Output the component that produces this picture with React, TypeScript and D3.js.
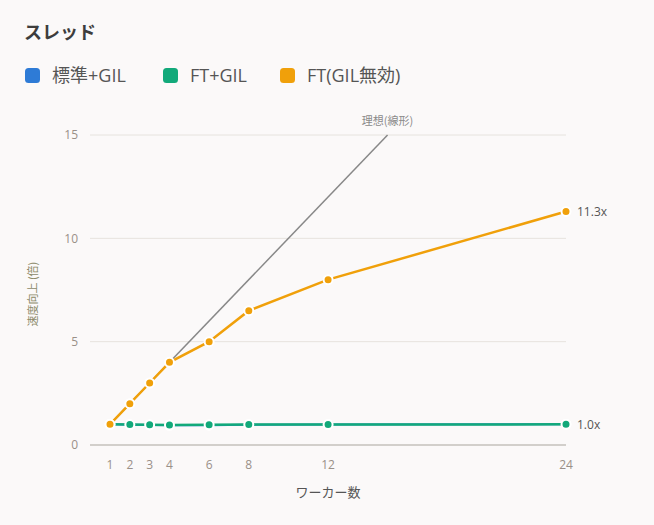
import { useRef, useEffect } from "react";
import * as d3 from "d3";

const workers = [1, 2, 3, 4, 6, 8, 12, 24];
const standardGil = [1.0, 0.98, 0.97, 0.95, 0.96, 0.98, 0.99, 1.01];
const ftGil = [1.0, 0.99, 0.98, 0.97, 0.98, 0.99, 0.99, 1.0];
const ftNoGil = [1.0, 2.0, 3.0, 4.0, 5.0, 6.5, 8.0, 11.3];
const idealX = [1, 15];
const yTicks = [0, 5, 10, 15];

const seriesNames = ["標準+GIL", "FT+GIL", "FT(GIL無効)"];
const seriesColors = ["#2e7bd6", "#12a97a", "#f0a00a"];

const FONT = "'Open Sans', 'Noto Sans CJK JP', sans-serif";
const CJK = "'Noto Sans CJK JP', 'Noto Sans', sans-serif";

export default function App() {
  const svgRef = useRef<SVGSVGElement>(null);

  useEffect(() => {
    if (!svgRef.current) return;
    const svg = d3.select(svgRef.current);
    svg.selectAll("*").remove();

    const width = 654;
    const height = 525;

    svg.append("rect").attr("width", width).attr("height", height).attr("fill", "#fbf9f9");

    // Title
    svg.append("text").attr("x", 24).attr("y", 39)
      .attr("font-family", CJK).attr("font-size", "18px").attr("font-weight", "700")
      .attr("fill", "#3d3d3d").text("スレッド");

    // Legend
    const legendX = [25, 163, 280];
    seriesNames.forEach((name, i) => {
      svg.append("rect").attr("x", legendX[i]).attr("y", 68).attr("width", 15).attr("height", 15)
        .attr("rx", 3.5).attr("fill", seriesColors[i]);
      svg.append("text").attr("x", legendX[i] + 27).attr("y", 82)
        .attr("font-family", FONT).attr("font-size", "18px").attr("fill", "#555")
        .text(name);
    });

    const x = d3.scaleLinear().domain([1, 24]).range([110, 566]);
    const y = d3.scaleLinear().domain([0, 15]).range([445, 135]);
    const gridLeft = 90;
    const gridRight = 566;

    // Grid
    yTicks.forEach((t) => {
      svg.append("line").attr("x1", gridLeft).attr("x2", gridRight)
        .attr("y1", y(t)).attr("y2", y(t))
        .attr("stroke", t === 0 ? "#d2cfcb" : "#e6e3de")
        .attr("stroke-width", t === 0 ? 2 : 1);
      svg.append("text").attr("x", 78).attr("y", y(t)).attr("dy", "0.35em")
        .attr("text-anchor", "end").attr("font-family", FONT).attr("font-size", "12px")
        .attr("fill", "#9a9088").text(t);
    });

    // X tick labels
    workers.forEach((w) => {
      svg.append("text").attr("x", x(w)).attr("y", 469).attr("text-anchor", "middle")
        .attr("font-family", FONT).attr("font-size", "12px").attr("fill", "#9a9088").text(w);
    });

    svg.append("text").attr("x", x(12)).attr("y", 497).attr("text-anchor", "middle")
      .attr("font-family", CJK).attr("font-size", "13px").attr("fill", "#555").text("ワーカー数");

    svg.append("text").attr("transform", `translate(37,${y(7.3)}) rotate(-90)`)
      .attr("text-anchor", "middle").attr("font-family", CJK).attr("font-size", "11px")
      .attr("fill", "#8c8a6a").text("速度向上 (倍)");

    // Ideal line
    const line = d3.line<[number, number]>().x((d) => x(d[0])).y((d) => y(d[1]));
    svg.append("path").datum(idealX.map((v) => [v, v] as [number, number]))
      .attr("d", line).attr("fill", "none").attr("stroke", "#888").attr("stroke-width", 1.5);
    svg.append("text").attr("x", x(idealX[1])).attr("y", y(15) - 10).attr("text-anchor", "middle")
      .attr("font-family", CJK).attr("font-size", "11px").attr("fill", "#8a8a8a").text("理想(線形)");

    const allSeries = [standardGil, ftGil, ftNoGil];
    allSeries.forEach((vals, i) => {
      const pts = workers.map((w, j) => [w, vals[j]] as [number, number]);
      svg.append("path").datum(pts).attr("d", line).attr("fill", "none")
        .attr("stroke", seriesColors[i]).attr("stroke-width", i === 0 ? 2 : 2.5);
      svg.selectAll(null).data(pts).join("circle")
        .attr("cx", (d) => x(d[0])).attr("cy", (d) => y(d[1])).attr("r", 4.5)
        .attr("fill", seriesColors[i]).attr("stroke", "#fff").attr("stroke-width", 2);
    });

    // End labels
    const last = workers.length - 1;
    [[ftNoGil[last], "11.3x"], [ftGil[last], "1.0x"]].forEach(([v, label]) => {
      svg.append("text").attr("x", x(24) + 11).attr("y", y(v as number)).attr("dy", "0.35em")
        .attr("font-family", FONT).attr("font-size", "12px").attr("fill", "#555").text(label as string);
    });
  }, []);

  return <svg ref={svgRef} width={654} height={525} style={{ display: "block", position: "absolute", left: 0, top: 0 }} />;
}
